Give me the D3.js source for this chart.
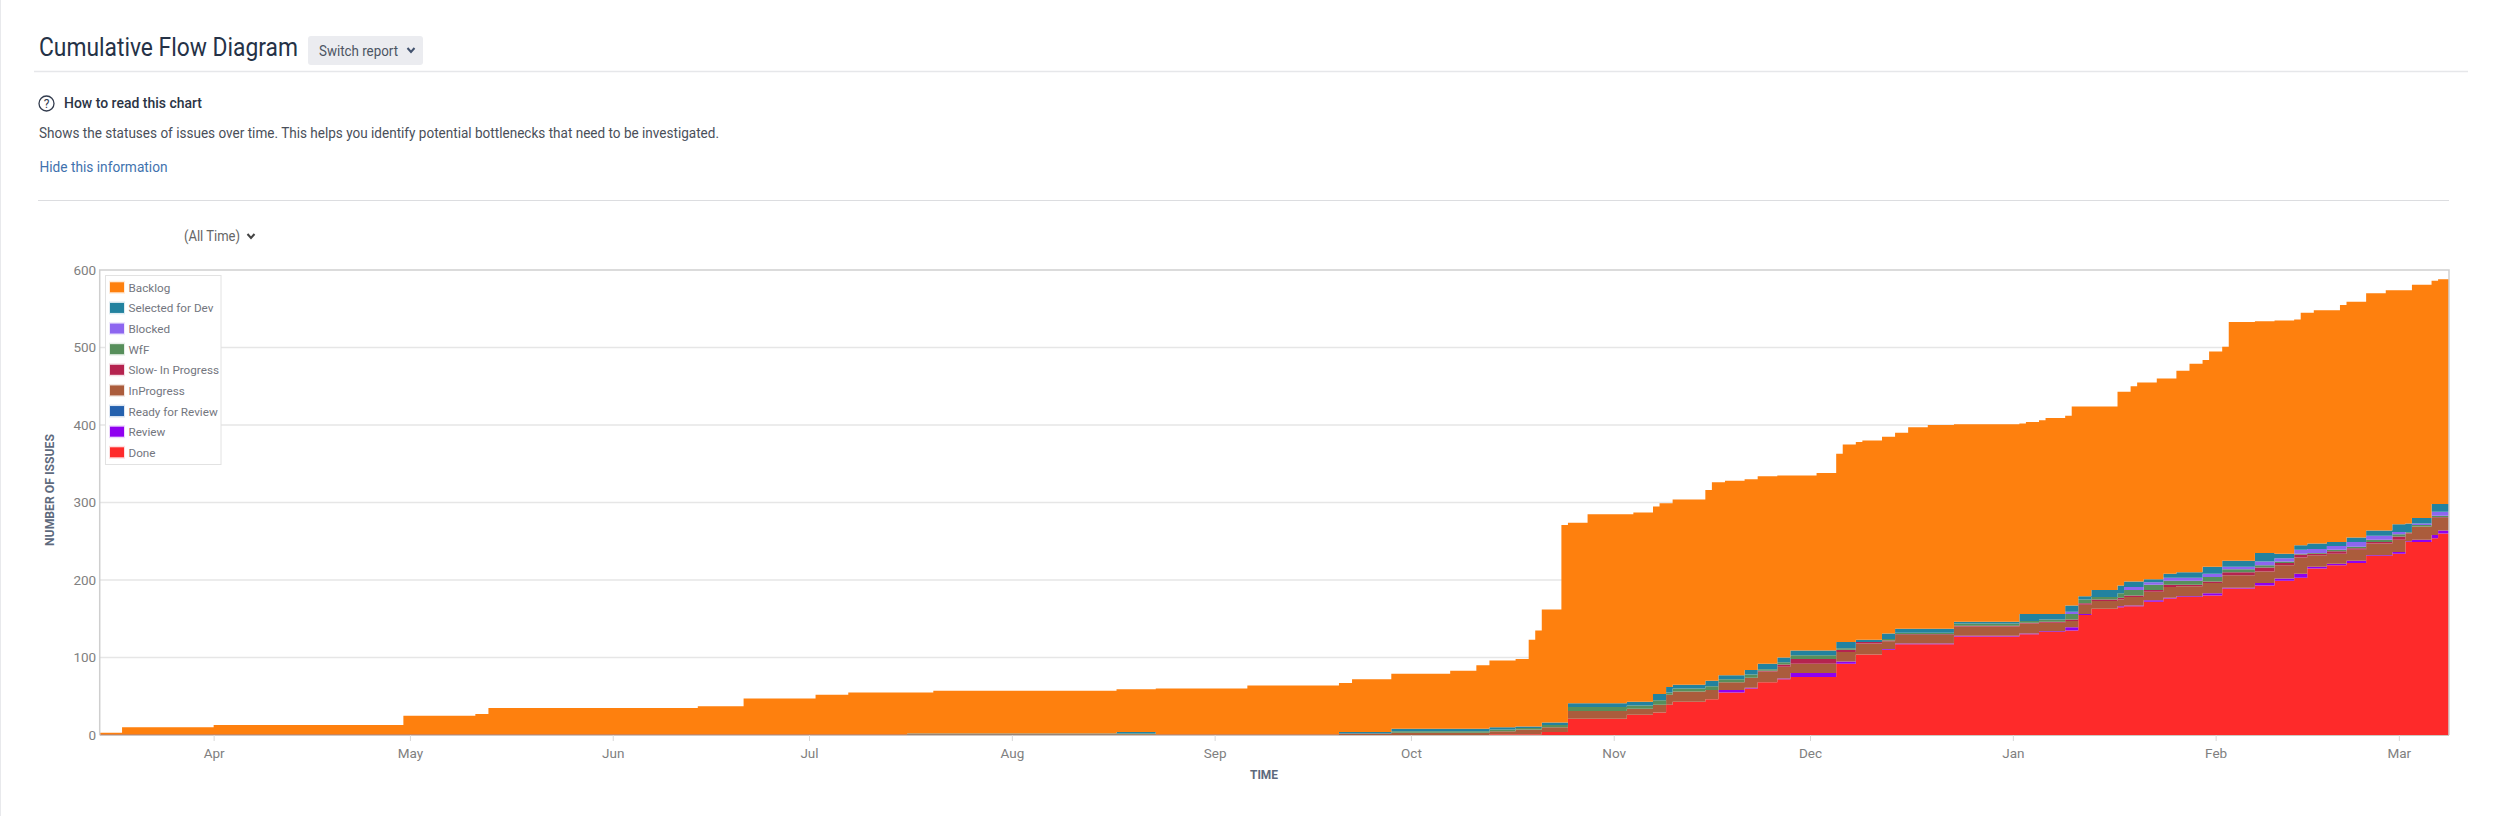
<!DOCTYPE html>
<html><head><meta charset="utf-8">
<script src="https://cdn.jsdelivr.net/npm/d3@7"></script>
<style>html,body{margin:0;padding:0;background:#fff;overflow:hidden}svg{display:block}text{font-family:Roboto,"Open Sans",sans-serif}</style>
</head><body><div id="chart"></div>
<script>
const dayLabels = ["2018-03-14","2018-03-18","2018-04-01","2018-04-30","2018-05-11","2018-05-13","2018-06-14","2018-06-21","2018-07-02","2018-07-07",
"2018-07-16","2018-07-20","2018-08-17","2018-08-23","2018-09-06","2018-09-20","2018-09-22","2018-09-28","2018-10-07","2018-10-11",
"2018-10-13","2018-10-17","2018-10-19","2018-10-20","2018-10-21","2018-10-24","2018-10-25","2018-10-28","2018-11-03","2018-11-04",
"2018-11-07","2018-11-08","2018-11-09","2018-11-10","2018-11-15","2018-11-16","2018-11-17","2018-11-18","2018-11-21","2018-11-23",
"2018-11-26","2018-11-28","2018-12-02","2018-12-05","2018-12-06","2018-12-08","2018-12-09","2018-12-12","2018-12-14","2018-12-16",
"2018-12-19","2018-12-23","2019-01-02","2019-01-03","2019-01-05","2019-01-06","2019-01-09","2019-01-10","2019-01-11","2019-01-13",
"2019-01-17","2019-01-18","2019-01-19","2019-01-20","2019-01-21","2019-01-23","2019-01-24","2019-01-26","2019-01-28","2019-01-30",
"2019-01-31","2019-02-02","2019-02-03","2019-02-07","2019-02-10","2019-02-13","2019-02-14","2019-02-15","2019-02-16","2019-02-18",
"2019-02-20","2019-02-21","2019-02-24","2019-02-27","2019-02-28","2019-03-02","2019-03-03","2019-03-06","2019-03-07","2019-03-09"];
const done = [0,0,0,0,0,0,0,0,0,0,
0,0,0,0,0,0,0,0,0,0,
1,1,1,1,4,4,21,21,26,26,
29,29,39,43,46,46,55,55,60,68,
72,75,75,92,92,104,104,110,117,117,
117,127,130,130,133,133,135,135,155,163,
165,166,166,166,172,172,176,178,178,180,
180,189,189,193,199,203,203,215,215,219,
219,222,231,231,234,249,249,254,260,260];
const review = [0,0,0,0,0,0,0,0,0,0,
0,0,0,0,0,0,0,0,0,0,
0,0,0,0,0,0,0,0,0,0,
0,0,0,0,0,0,3,3,1,0,
1,5,5,3,3,0,0,1,1,1,
1,1,1,1,1,1,4,4,1,0,
1,1,1,1,2,2,1,1,1,3,
3,1,1,3,3,5,5,2,2,2,
2,3,1,1,2,1,3,4,4,4];
const readyForReview = [0,0,0,0,0,0,0,0,0,0,
0,0,0,0,0,0,0,0,0,0,
0,0,0,0,0,0,0,0,0,0,
0,0,0,0,0,0,0,0,0,0,
0,0,0,0,0,0,0,0,0,0,
0,0,0,0,0,0,0,0,0,0,
0,0,0,0,0,0,0,0,0,0,
0,0,0,0,0,0,0,0,0,0,
0,0,0,0,0,0,0,0,0,0];
const inProgress = [1,1,1,1,1,1,1,1,1,1,
1,1,1,1,1,2,2,3,3,3,
4,6,6,6,6,6,10,10,8,8,
10,10,13,13,12,12,10,10,13,14,
15,12,12,12,12,14,14,10,11,11,
11,12,13,13,11,11,8,8,12,10,
9,11,11,11,11,11,14,13,13,13,
13,16,16,15,17,21,21,15,15,13,
13,14,15,15,16,10,17,22,16,16];
const slowInProgress = [0,0,0,0,0,0,0,0,0,0,
0,0,0,0,0,0,0,0,0,0,
0,0,0,0,0,0,0,0,0,0,
0,0,0,0,0,0,0,0,0,1,
3,6,6,3,3,2,2,1,1,1,
1,1,1,1,1,1,2,2,2,2,
2,2,2,2,2,2,3,2,2,2,
2,4,4,5,3,4,4,2,2,3,
3,2,2,2,4,1,0,1,1,1];
const wfF = [0,0,0,0,0,0,0,0,0,0,
0,0,1,0,0,0,0,2,2,2,
2,2,2,2,3,3,5,5,4,4,
6,6,3,4,5,5,4,4,4,2,
3,5,5,2,2,0,0,2,2,2,
2,3,2,2,3,3,7,7,5,3,
6,7,7,7,7,7,5,5,5,6,
6,4,4,3,2,1,1,1,1,2,
2,2,3,3,3,1,2,2,2,2];
const blocked = [0,0,0,0,0,0,0,0,0,0,
0,0,0,0,0,0,0,0,0,0,
0,0,0,0,0,0,0,0,0,0,
0,0,0,0,0,0,0,0,0,0,
0,0,0,0,0,0,0,0,0,0,
0,0,0,0,0,0,3,3,0,0,
0,4,4,4,3,3,4,4,4,4,
4,3,3,5,4,5,5,5,5,5,
5,6,5,5,3,0,2,5,5,5];
const selectedForDev = [0,0,0,0,0,0,0,0,0,0,
1,1,2,0,0,2,2,3,3,3,
3,2,2,2,3,3,5,5,5,5,
8,8,7,5,7,7,5,5,6,7,
6,6,6,8,8,3,3,7,5,5,
5,2,9,9,7,7,8,8,4,9,
10,7,7,7,4,4,5,7,7,9,
9,8,8,11,6,6,6,7,7,5,
5,6,7,7,10,11,7,10,10,10];
const backlog = [2,9,12,24,26,34,36,46,51,54,
53,55,55,59,63,63,68,71,75,82,
86,87,112,124,146,255,233,244,242,244,
242,246,237,239,246,256,249,251,246,242,
235,226,229,243,255,255,257,254,253,260,
263,255,246,248,250,253,245,257,245,237,
250,245,252,257,254,259,252,260,269,267,
278,276,308,299,301,291,300,298,301,299,
306,304,306,310,302,301,301,288,290,290];

const statusNames = ["Backlog","Selected for Dev","Blocked","WfF","Slow- In Progress","InProgress","Ready for Review","Review","Done"];
const statusColors = ["#fe800e","#22829f","#8d66f0","#578f5b","#b5234f","#ab5c3c","#2461ae","#8f00f0","#fe2a2a"];
const statusValues = [backlog,selectedForDev,blocked,wfF,slowInProgress,inProgress,readyForReview,review,done];
const yTicks = [0,100,200,300,400,500,600];

const W=2500,H=816;
const plot={l:99.7,r:2449,t:270,b:735};
const parse=d3.timeParse("%Y-%m-%d");
const dates=dayLabels.map(parse);
const x=d3.scaleTime().domain([new Date(2018,2,14,14),new Date(2019,2,8,16)]).range([plot.l,plot.r]);
const y=d3.scaleLinear().domain([0,600]).range([plot.b,plot.t]);

const svg=d3.select("#chart").append("svg").attr("width",W).attr("height",H);
svg.append("rect").attr("width",W).attr("height",H).attr("fill","#fff");
svg.append("line").attr("x1",0.5).attr("x2",0.5).attr("y1",0).attr("y2",H).attr("stroke","#e8e9ec");

function label(t,xp,yp,size,color,len,weight){
  const s=svg.append("text").attr("x",xp).attr("y",yp).attr("font-size",size).attr("fill",color).text(t);
  if(len) s.attr("textLength",len).attr("lengthAdjust","spacingAndGlyphs");
  if(weight) s.attr("font-weight",weight);
  return s;
}
function chevron(cx,cy,color){
  svg.append("path").attr("d",`M${cx-3.5},${cy-2}L${cx},${cy+2}L${cx+3.5},${cy-2}`).attr("fill","none").attr("stroke",color).attr("stroke-width",2);
}
label("Cumulative Flow Diagram",39,56,25,"#253247",259);
svg.append("rect").attr("x",308).attr("y",36).attr("width",115).attr("height",29).attr("rx",3).attr("fill","#ebecf0");
label("Switch report",319,56,14.5,"#4b5563",79);
chevron(411,50,"#42526e");
svg.append("line").attr("x1",34).attr("x2",2468).attr("y1",71.5).attr("y2",71.5).attr("stroke","#e6e7ea").attr("stroke-width",1.5);
svg.append("circle").attr("cx",46.5).attr("cy",103.5).attr("r",7.5).attr("fill","none").attr("stroke","#333c4e").attr("stroke-width",1.3);
svg.append("text").attr("x",46.5).attr("y",108).attr("text-anchor","middle").attr("font-size",12).attr("fill","#333c4e").text("?");
label("How to read this chart",64,108,14.5,"#2b3445",138,500);
label("Shows the statuses of issues over time. This helps you identify potential bottlenecks that need to be investigated.",39,137.5,14.5,"#4a4f5a",680);
label("Hide this information",39.5,171.5,14.5,"#3f72ae",128);
svg.append("line").attr("x1",38).attr("x2",2449).attr("y1",200.5).attr("y2",200.5).attr("stroke","#dcdde0");
label("(All Time)",184,240.5,14,"#666",56);
chevron(251,236,"#444");

// grid
svg.append("g").selectAll("line").data(yTicks.filter(d=>d>0&&d<600)).join("line")
  .attr("x1",plot.l).attr("x2",plot.r).attr("y1",d=>y(d)).attr("y2",d=>y(d))
  .attr("stroke","#e6e6e6").attr("stroke-width",1.5);

// stack: bottom band is the last status
const rows=dates.map((d,i)=>{const o={date:d};statusNames.forEach((n,k)=>o[n]=statusValues[k][i]);return o;});
const stack=d3.stack().keys(statusNames.slice().reverse());
const series=stack(rows);
const area=d3.area().curve(d3.curveStepAfter).x(d=>x(d.data.date)).y0(d=>y(d[0])).y1(d=>y(d[1]));
svg.append("clipPath").attr("id","plot-clip").append("rect").attr("x",plot.l).attr("y",plot.t).attr("width",plot.r-plot.l).attr("height",plot.b-plot.t);
svg.append("g").attr("clip-path","url(#plot-clip)").selectAll("path").data(series).join("path")
  .attr("d",area).attr("fill",d=>statusColors[statusNames.indexOf(d.key)]);

// frame
svg.append("path").attr("d",`M${plot.l},${plot.b}V${plot.t}H${plot.r}V${plot.b}`).attr("fill","none").attr("stroke","#cfcfcf").attr("stroke-width",1.5);
svg.append("line").attr("x1",plot.l).attr("x2",plot.r).attr("y1",plot.b+0.5).attr("y2",plot.b+0.5).attr("stroke","#cfc6c0");

// axes
const xAxis=d3.axisBottom(x).ticks(d3.timeMonth.every(1)).tickFormat(d3.timeFormat("%b")).tickSize(6).tickPadding(7);
const gx=svg.append("g").attr("transform",`translate(0,${plot.b})`).call(xAxis);
gx.select(".domain").remove();
gx.selectAll("line").attr("stroke","#d8d8d8");
gx.selectAll("text").attr("font-size",13.5).attr("fill","#808080").attr("font-family","Roboto,sans-serif");
const yAxis=d3.axisLeft(y).tickValues(yTicks).tickSize(0).tickPadding(3.5);
const gy=svg.append("g").attr("transform",`translate(${plot.l},0)`).call(yAxis);
gy.select(".domain").remove();
gy.selectAll("text").attr("font-size",13.5).attr("fill","#808080").attr("font-family","Roboto,sans-serif");

label("TIME",1264,779,12.5,"#5e6a7d",28,700).attr("text-anchor","middle");
svg.append("text").attr("transform","translate(54,490) rotate(-90)").attr("text-anchor","middle")
  .attr("font-size",12.5).attr("font-weight",700).attr("fill","#5e6a7d").attr("textLength",112).attr("lengthAdjust","spacingAndGlyphs").text("NUMBER OF ISSUES");

// legend
svg.append("rect").attr("x",105.5).attr("y",275.5).attr("width",115.5).attr("height",189).attr("fill","#fff").attr("stroke","#e2e2e2");
const legendY=d3.scalePoint().domain(statusNames).range([287.3,452.3]);
const lg=svg.append("g").selectAll("g").data(statusNames).join("g").attr("transform",d=>`translate(0,${legendY(d)})`);
lg.append("rect").attr("x",109).attr("y",-6.5).attr("width",16).attr("height",13).attr("fill",(d,i)=>statusColors[i]).attr("opacity",0.15);
lg.append("rect").attr("x",110).attr("y",-5).attr("width",14).attr("height",10).attr("fill",(d,i)=>statusColors[i]);
lg.append("text").attr("x",128.5).attr("y",4.5).attr("font-size",11.7).attr("fill","#73767e").text(d=>d);
</script></body></html>
